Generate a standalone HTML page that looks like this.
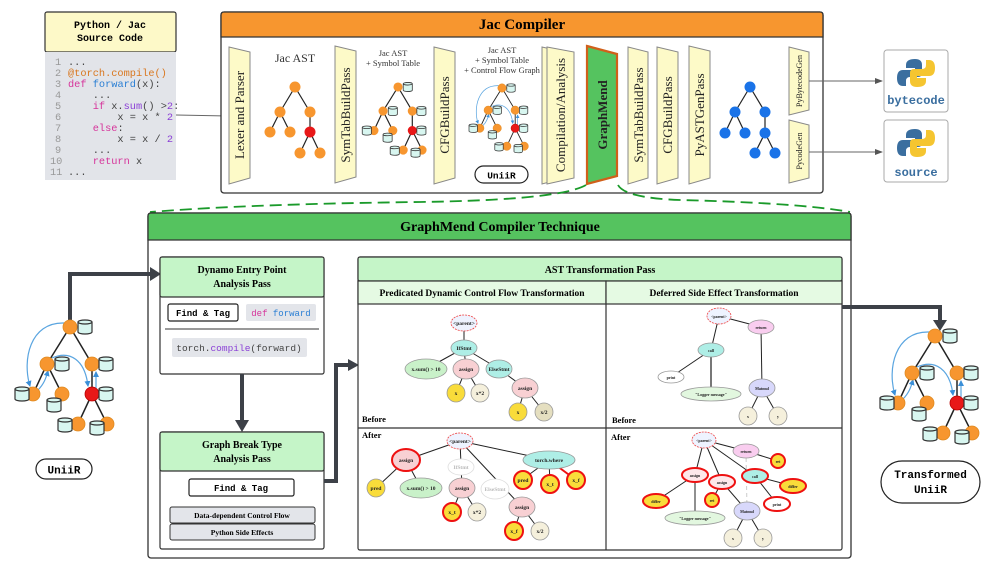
<!DOCTYPE html>
<html><head><meta charset="utf-8"><style>
html,body{margin:0;padding:0;background:#fff}
svg{display:block}
.s{font-family:"Liberation Serif",serif}
.m{font-family:"Liberation Mono",monospace}
.b{font-weight:bold}
</style></head><body>
<svg width="996" height="565" viewBox="0 0 996 565" xmlns="http://www.w3.org/2000/svg">
<defs>
<marker id="ah" markerWidth="8" markerHeight="8" refX="7" refY="4" orient="auto" markerUnits="userSpaceOnUse"><path d="M0,1 L8,4 L0,7 Z" fill="#555"/></marker>
<marker id="bh" markerWidth="6" markerHeight="6" refX="5" refY="3" orient="auto" markerUnits="userSpaceOnUse"><path d="M0,0 L6,3 L0,6 Z" fill="#3a8fd8"/></marker>
<g id="cyl"><path d="M-7,-5 L-7,5 A7,2 0 0 0 7,5 L7,-5" fill="#d8f6f0" stroke="#333" stroke-width="1.2"/><ellipse cx="0" cy="-5" rx="7" ry="2" fill="#d8f6f0" stroke="#333" stroke-width="1.2"/></g>
<g id="tree">
<g stroke="#222" stroke-width="1.5">
<line x1="70" y1="327" x2="47" y2="364"/><line x1="70" y1="327" x2="92" y2="364"/>
<line x1="47" y1="364" x2="33" y2="394"/><line x1="47" y1="364" x2="62" y2="394"/>
<line x1="92" y1="364" x2="92" y2="394"/><line x1="92" y1="394" x2="78" y2="424"/><line x1="92" y1="394" x2="107" y2="424"/>
</g>
<g fill="none" stroke="#5aa5e0" stroke-width="1.2">
<path d="M64,323 C30,322 22,360 30,386" marker-end="url(#bh)"/>
<path d="M38,390 C44,384 46,378 48,371" marker-end="url(#bh)"/>
<path d="M52,358 C70,350 85,360 88,386" marker-end="url(#bh)"/>
<path d="M96,388 L96,372" marker-end="url(#bh)"/>
</g>
<g stroke="#e08a20" stroke-width="0.8">
<circle cx="70" cy="327" r="7" fill="#f7962f"/><circle cx="47" cy="364" r="7" fill="#f7962f"/><circle cx="92" cy="364" r="7" fill="#f7962f"/>
<circle cx="33" cy="394" r="7" fill="#f7962f"/><circle cx="62" cy="394" r="7" fill="#f7962f"/><circle cx="92" cy="394" r="7" fill="#e81818" stroke="#b00"/>
<circle cx="78" cy="424" r="7" fill="#f7962f"/><circle cx="107" cy="424" r="7" fill="#f7962f"/>
</g>
<use href="#cyl" x="85" y="327"/><use href="#cyl" x="62" y="364"/><use href="#cyl" x="106" y="364"/>
<use href="#cyl" x="22" y="394"/><use href="#cyl" x="54" y="405"/><use href="#cyl" x="106" y="394"/>
<use href="#cyl" x="65" y="425"/><use href="#cyl" x="97" y="428"/>
</g>
</defs>

<!-- Source code -->
<rect x="45" y="12" width="131" height="40" fill="#fdf9c8" stroke="#333" stroke-width="1.2" rx="2"/>
<text x="110" y="28" text-anchor="middle" class="m b" font-size="10">Python / Jac</text>
<text x="110" y="41" text-anchor="middle" class="m b" font-size="10">Source Code</text>
<rect x="45" y="52" width="131" height="128" fill="#e2e4e9"/>
<g class="m" font-size="10.3">
<text x="55" y="65" fill="#999">1</text><text x="68" y="65" fill="#444">...</text>
<text x="55" y="76" fill="#999">2</text><text x="68" y="76" fill="#d9771f">@torch.compile()</text>
<text x="55" y="87" fill="#999">3</text><text x="68" y="87"><tspan fill="#d6339a">def</tspan> <tspan fill="#2b7fd4">forward</tspan><tspan fill="#444">(x):</tspan></text>
<text x="55" y="98" fill="#999">4</text><text x="68" y="98" fill="#444" xml:space="preserve">    ...</text>
<text x="55" y="109" fill="#999">5</text><text x="68" y="109" fill="#444" xml:space="preserve">    <tspan fill="#d6339a">if</tspan> x.<tspan fill="#8a3fd6">sum</tspan>() &gt;<tspan fill="#8a3fd6">2</tspan>:</text>
<text x="55" y="120" fill="#999">6</text><text x="68" y="120" fill="#444" xml:space="preserve">        x = x * <tspan fill="#8a3fd6">2</tspan></text>
<text x="55" y="131" fill="#999">7</text><text x="68" y="131" fill="#444" xml:space="preserve">    <tspan fill="#d6339a">else</tspan>:</text>
<text x="55" y="142" fill="#999">8</text><text x="68" y="142" fill="#444" xml:space="preserve">        x = x / <tspan fill="#8a3fd6">2</tspan></text>
<text x="55" y="153" fill="#999">9</text><text x="68" y="153" fill="#444" xml:space="preserve">    ...</text>
<text x="50" y="164" fill="#999">10</text><text x="68" y="164" fill="#444" xml:space="preserve">    <tspan fill="#d6339a">return</tspan> x</text>
<text x="50" y="175" fill="#999">11</text><text x="68" y="175" fill="#444">...</text>
</g>
<line x1="176" y1="115" x2="228" y2="116" stroke="#666" stroke-width="1" marker-end="url(#ah)"/>

<!-- Jac Compiler -->
<rect x="221" y="12" width="602" height="181" fill="#fff" stroke="#333" stroke-width="1.3" rx="3"/>
<path d="M221,37 L221,15 Q221,12 224,12 L820,12 Q823,12 823,15 L823,37 Z" fill="#f7962f" stroke="#333" stroke-width="1.3"/>
<text x="522" y="29" text-anchor="middle" class="s b" font-size="15">Jac Compiler</text>

<g stroke="#888" stroke-width="1" fill="#fdfac8">
<path d="M229,47 L250,52 L250,178 L229,184 Z"/>
<path d="M335,46 L356,51 L356,177 L335,183 Z"/>
<path d="M434,47 L455,52 L455,178 L434,184 Z"/>
<path d="M542,47 L564,52 L564,178 L542,184 Z"/>
<path d="M547,47 L574,52 L574,178 L547,184 Z"/>
<path d="M628,47 L648,52 L648,178 L628,184 Z"/>
<path d="M657,47 L678,52 L678,178 L657,184 Z"/>
<path d="M689,46 L710,51 L710,178 L689,184 Z"/>
<path d="M789,47 L809,52 L809,110 L789,115 Z"/>
<path d="M789,120 L809,125 L809,178 L789,183 Z"/>
</g>
<path d="M587,46 L617,54 L617,176 L587,184 Z" fill="#55c35f" stroke="#d0601a" stroke-width="2.2"/>
<g class="s" font-size="13" fill="#222">
<text transform="translate(244,115) rotate(-90)" text-anchor="middle">Lexer and Parser</text>
<text transform="translate(350,115) rotate(-90)" text-anchor="middle">SymTabBuildPass</text>
<text transform="translate(449,115) rotate(-90)" text-anchor="middle">CFGBuildPass</text>
<text transform="translate(565,115) rotate(-90)" text-anchor="middle">Compilation/Analysis</text>
<text transform="translate(607,115) rotate(-90)" text-anchor="middle" class="b">GraphMend</text>
<text transform="translate(643,115) rotate(-90)" text-anchor="middle">SymTabBuildPass</text>
<text transform="translate(672,115) rotate(-90)" text-anchor="middle">CFGBuildPass</text>
<text transform="translate(704,115) rotate(-90)" text-anchor="middle">PyASTGenPass</text>
<text transform="translate(802,81) rotate(-90)" text-anchor="middle" font-size="8">PyBytecodeGen</text>
<text transform="translate(802,151) rotate(-90)" text-anchor="middle" font-size="8">PycodeGen</text>
</g>
<g class="s" fill="#333" text-anchor="middle">
<text x="295" y="62" font-size="12">Jac AST</text>
<text x="393" y="56" font-size="8.5">Jac AST</text><text x="393" y="66" font-size="8.5">+ Symbol Table</text>
<text x="502" y="53" font-size="8.5">Jac AST</text><text x="502" y="63" font-size="8.5">+ Symbol Table</text><text x="502" y="73" font-size="8.5">+ Control Flow Graph</text>
</g>
<g stroke="#222" stroke-width="1.2">
<line x1="295" y1="87" x2="280" y2="112"/><line x1="295" y1="87" x2="310" y2="112"/>
<line x1="280" y1="112" x2="270" y2="132"/><line x1="280" y1="112" x2="290" y2="132"/>
<line x1="310" y1="112" x2="310" y2="132"/><line x1="310" y1="132" x2="300" y2="153"/><line x1="310" y1="132" x2="320" y2="153"/>
</g>
<g fill="#f7962f"><circle cx="295" cy="87" r="5.5"/><circle cx="280" cy="112" r="5.5"/><circle cx="310" cy="112" r="5.5"/><circle cx="270" cy="132" r="5.5"/><circle cx="290" cy="132" r="5.5"/><circle cx="310" cy="132" r="5.5" fill="#e81818"/><circle cx="300" cy="153" r="5.5"/><circle cx="320" cy="153" r="5.5"/></g>
<g transform="translate(398,87) scale(0.65) translate(-70,-327)">
<g stroke="#222" stroke-width="1.8">
<line x1="70" y1="327" x2="47" y2="364"/><line x1="70" y1="327" x2="92" y2="364"/>
<line x1="47" y1="364" x2="33" y2="394"/><line x1="47" y1="364" x2="62" y2="394"/>
<line x1="92" y1="364" x2="92" y2="394"/><line x1="92" y1="394" x2="78" y2="424"/><line x1="92" y1="394" x2="107" y2="424"/>
</g>
<g fill="#f7962f"><circle cx="70" cy="327" r="7"/><circle cx="47" cy="364" r="7"/><circle cx="92" cy="364" r="7"/><circle cx="33" cy="394" r="7"/><circle cx="62" cy="394" r="7"/><circle cx="92" cy="394" r="7" fill="#e81818"/><circle cx="78" cy="424" r="7"/><circle cx="107" cy="424" r="7"/></g>
<use href="#cyl" x="85" y="327"/><use href="#cyl" x="62" y="364"/><use href="#cyl" x="106" y="364"/><use href="#cyl" x="22" y="394"/><use href="#cyl" x="54" y="405"/><use href="#cyl" x="106" y="394"/><use href="#cyl" x="65" y="425"/><use href="#cyl" x="97" y="428"/>
</g>
<use href="#tree" transform="translate(502,88) scale(0.6) translate(-70,-327)"/>
<rect x="475" y="166" width="53" height="17" rx="8.5" fill="#fff" stroke="#222" stroke-width="1.2"/>
<text x="501.5" y="178.5" text-anchor="middle" class="m b" font-size="9.5">UniiR</text>
<g stroke="#222" stroke-width="1.2">
<line x1="750" y1="87" x2="735" y2="112"/><line x1="750" y1="87" x2="765" y2="112"/>
<line x1="735" y1="112" x2="725" y2="133"/><line x1="735" y1="112" x2="745" y2="133"/>
<line x1="765" y1="112" x2="765" y2="133"/><line x1="765" y1="133" x2="755" y2="153"/><line x1="765" y1="133" x2="775" y2="153"/>
</g>
<g fill="#1a73e8"><circle cx="750" cy="87" r="5.5"/><circle cx="735" cy="112" r="5.5"/><circle cx="765" cy="112" r="5.5"/><circle cx="725" cy="133" r="5.5"/><circle cx="745" cy="133" r="5.5"/><circle cx="765" cy="133" r="5.5"/><circle cx="755" cy="153" r="5.5"/><circle cx="775" cy="153" r="5.5"/></g>

<line x1="809" y1="81" x2="882" y2="81" stroke="#666" marker-end="url(#ah)"/>
<line x1="809" y1="152" x2="882" y2="152" stroke="#666" marker-end="url(#ah)"/>
<rect x="884" y="50" width="64" height="62" rx="3" fill="#fff" stroke="#aaa"/>
<rect x="884" y="120" width="64" height="62" rx="3" fill="#fff" stroke="#aaa"/>
<g>
<path d="M915,59 q-9,0 -9,6 v3 h9 v2 h-12 q-6,0 -6,8 q0,8 6,8 h3 v-5 q0,-4 4,-4 h8 q4,0 4,-4 v-8 q0,-6 -7,-6z" fill="#3a6e9f"/>
<path d="M917,87 q9,0 9,-6 v-3 h-9 v-2 h12 q6,0 6,-8 q0,-8 -6,-8 h-3 v5 q0,4 -4,4 h-8 q-4,0 -4,4 v8 q0,6 7,6z" fill="#f5c530"/>
<text x="916" y="104" text-anchor="middle" class="m b" font-size="12" fill="#3a6e9f">bytecode</text>
<path d="M915,129 q-9,0 -9,6 v3 h9 v2 h-12 q-6,0 -6,8 q0,8 6,8 h3 v-5 q0,-4 4,-4 h8 q4,0 4,-4 v-8 q0,-6 -7,-6z" fill="#3a6e9f"/>
<path d="M917,157 q9,0 9,-6 v-3 h-9 v-2 h12 q6,0 6,-8 q0,-8 -6,-8 h-3 v5 q0,4 -4,4 h-8 q-4,0 -4,4 v8 q0,6 7,6z" fill="#f5c530"/>
<text x="916" y="176" text-anchor="middle" class="m b" font-size="12" fill="#3a6e9f">source</text>
</g>

<path d="M586,185 Q560,200 420,202 Q250,204 150,212" fill="none" stroke="#1a9a2a" stroke-width="1.8" stroke-dasharray="12,6"/>
<path d="M618,185 Q625,198 680,200 Q800,203 850,212" fill="none" stroke="#1a9a2a" stroke-width="1.8" stroke-dasharray="12,6"/>

<rect x="148" y="213" width="703" height="345" fill="#fff" stroke="#333" stroke-width="1.3" rx="3"/>
<path d="M148,240 L148,216 Q148,213 151,213 L848,213 Q851,213 851,216 L851,240 Z" fill="#55c35f" stroke="#333" stroke-width="1.3"/>
<text x="500" y="231" text-anchor="middle" class="s b" font-size="14">GraphMend Compiler Technique</text>

<path d="M70,320 L70,274 L152,274" fill="none" stroke="#3d4148" stroke-width="4"/>
<path d="M150,267 L161,274 L150,281 Z" fill="#3d4148"/>
<use href="#tree"/>
<rect x="36" y="459" width="56" height="20" rx="10" fill="#fff" stroke="#222" stroke-width="1.2"/>
<text x="64" y="473.5" text-anchor="middle" class="m b" font-size="11">UniiR</text>

<rect x="160" y="257" width="164" height="117" fill="#fff" stroke="#333" stroke-width="1.2" rx="2"/>
<rect x="160" y="257" width="164" height="40" fill="#c5f5c8" stroke="#333" stroke-width="1.2" rx="2"/>
<text x="242" y="273" text-anchor="middle" class="s b" font-size="10">Dynamo Entry Point</text>
<text x="242" y="287" text-anchor="middle" class="s b" font-size="10">Analysis Pass</text>
<rect x="168" y="304" width="70" height="17" rx="2" fill="#fff" stroke="#222" stroke-width="1.2"/>
<text x="203" y="316" text-anchor="middle" class="m b" font-size="9">Find &amp; Tag</text>
<rect x="246" y="304" width="70" height="17" rx="2" fill="#e3e5ea"/>
<text x="281" y="316" text-anchor="middle" class="m" font-size="9"><tspan fill="#d6339a">def</tspan> <tspan fill="#2b7fd4">forward</tspan></text>
<line x1="165" y1="329" x2="319" y2="329" stroke="#333" stroke-width="1"/>
<rect x="172" y="338" width="135" height="19" rx="2" fill="#e3e5ea"/>
<text x="239" y="351" text-anchor="middle" class="m" font-size="9.5" fill="#444">torch.<tspan fill="#8a3fd6">compile</tspan>(forward)</text>
<path d="M242,374 L242,422" stroke="#3d4148" stroke-width="4"/>
<path d="M235,420 L242,432 L249,420 Z" fill="#3d4148"/>
<rect x="160" y="432" width="164" height="117" fill="#fff" stroke="#333" stroke-width="1.2" rx="2"/>
<rect x="160" y="432" width="164" height="39" fill="#c5f5c8" stroke="#333" stroke-width="1.2" rx="2"/>
<text x="242" y="448" text-anchor="middle" class="s b" font-size="10">Graph Break Type</text>
<text x="242" y="462" text-anchor="middle" class="s b" font-size="10">Analysis Pass</text>
<rect x="189" y="479" width="105" height="17" rx="2" fill="#fff" stroke="#222" stroke-width="1.2"/>
<text x="241" y="491" text-anchor="middle" class="m b" font-size="9">Find &amp; Tag</text>
<rect x="170" y="507" width="145" height="16" rx="2" fill="#e3e5ea" stroke="#333"/>
<text x="242" y="518" text-anchor="middle" class="s b" font-size="7.5">Data-dependent Control Flow</text>
<rect x="170" y="524" width="145" height="16" rx="2" fill="#e3e5ea" stroke="#333"/>
<text x="242" y="535" text-anchor="middle" class="s b" font-size="7.5">Python Side Effects</text>
<path d="M324,481 L336,481 L336,365 L350,365" fill="none" stroke="#3d4148" stroke-width="4"/>
<path d="M348,359 L359,365 L348,371 Z" fill="#3d4148"/>

<rect x="358" y="257" width="484" height="293" fill="#fff" stroke="#333" stroke-width="1.2" rx="2"/>
<rect x="358" y="257" width="484" height="24" fill="#c5f5c8" stroke="#333" stroke-width="1.2" rx="2"/>
<text x="600" y="273" text-anchor="middle" class="s b" font-size="10">AST Transformation Pass</text>
<rect x="358" y="281" width="248" height="23" fill="#e5fae3" stroke="#333" stroke-width="1.2"/>
<rect x="606" y="281" width="236" height="23" fill="#e5fae3" stroke="#333" stroke-width="1.2"/>
<text x="482" y="296" text-anchor="middle" class="s b" font-size="9.5">Predicated Dynamic Control Flow Transformation</text>
<text x="724" y="296" text-anchor="middle" class="s b" font-size="9.5">Deferred Side Effect Transformation</text>
<line x1="606" y1="304" x2="606" y2="550" stroke="#333" stroke-width="1.2"/>
<line x1="358" y1="428" x2="842" y2="428" stroke="#333" stroke-width="1.2"/>
<g class="s b" font-size="8.5"><text x="362" y="422">Before</text><text x="362" y="438">After</text><text x="612" y="423">Before</text><text x="611" y="440">After</text></g>

<path d="M842,307 L940,307 L940,322" fill="none" stroke="#3d4148" stroke-width="4"/>
<path d="M933,320 L940,331 L947,320 Z" fill="#3d4148"/>
<use href="#tree" transform="translate(865,9)"/>
<rect x="881" y="461" width="99" height="42" rx="21" fill="#fff" stroke="#222" stroke-width="1.2"/>
<text x="930.5" y="478" text-anchor="middle" class="m b" font-size="11">Transformed</text>
<text x="930.5" y="493" text-anchor="middle" class="m b" font-size="11">UniiR</text>

<g stroke="#222" stroke-width="1">
<line x1="464" y1="323" x2="464" y2="348"/><line x1="464" y1="348" x2="426" y2="369"/><line x1="464" y1="348" x2="466" y2="369"/><line x1="464" y1="348" x2="499" y2="369"/>
<line x1="466" y1="369" x2="456" y2="393"/><line x1="466" y1="369" x2="480" y2="393"/><line x1="499" y1="369" x2="525" y2="388"/>
<line x1="525" y1="388" x2="518" y2="412"/><line x1="525" y1="388" x2="544" y2="412"/>
</g>
<g stroke="#999" stroke-width="0.8" class="s b" font-size="5.5" text-anchor="middle">
<ellipse cx="464" cy="323" rx="13" ry="8" fill="#eef3ff" stroke="#e44" stroke-dasharray="2,1"/>
<ellipse cx="464" cy="348" rx="13" ry="8" fill="#aeeee6"/>
<ellipse cx="426" cy="369" rx="21" ry="10" fill="#c9f1c9"/>
<ellipse cx="466" cy="369" rx="13" ry="10" fill="#f8d0d3"/>
<ellipse cx="499" cy="369" rx="13" ry="9" fill="#aeeee6"/>
<ellipse cx="525" cy="388" rx="13" ry="10" fill="#f8d0d3"/>
<circle cx="456" cy="393" r="9" fill="#f9dc3a"/><circle cx="480" cy="393" r="9" fill="#f5f0dc"/>
<circle cx="518" cy="412" r="9" fill="#f9dc3a"/><circle cx="544" cy="412" r="9" fill="#e5dfc0"/>
<g stroke="none" fill="#222"><text x="464" y="325">&lt;parent&gt;</text><text x="464" y="350">IfStmt</text><text x="426" y="371">x.sum() &gt; 10</text><text x="466" y="371">assign</text><text x="499" y="371">ElseStmt</text><text x="525" y="390">assign</text><text x="456" y="395">x</text><text x="480" y="395">x*2</text><text x="518" y="414">x</text><text x="544" y="414">x/2</text></g>
</g>

<g stroke="#222" stroke-width="1">
<line x1="460" y1="441" x2="406" y2="460"/><line x1="460" y1="441" x2="549" y2="460"/><line x1="460" y1="441" x2="462" y2="488"/><line x1="460" y1="441" x2="522" y2="507"/>
<line x1="406" y1="460" x2="376" y2="488"/><line x1="406" y1="460" x2="421" y2="488"/>
<line x1="462" y1="488" x2="452" y2="512"/><line x1="462" y1="488" x2="477" y2="512"/>
<line x1="522" y1="507" x2="514" y2="531"/><line x1="522" y1="507" x2="540" y2="531"/>
<line x1="549" y1="460" x2="523" y2="479"/><line x1="549" y1="460" x2="550" y2="484"/><line x1="549" y1="460" x2="576" y2="480" stroke="#e11" stroke-width="2"/>
</g>
<g stroke-width="0.8" class="s b" font-size="5.5" text-anchor="middle">
<ellipse cx="461" cy="467" rx="13" ry="8" fill="#fff" stroke="#ddd"/>
<ellipse cx="495" cy="489" rx="14" ry="10" fill="#fff" stroke="#ddd"/>
<ellipse cx="460" cy="441" rx="13" ry="8" fill="#eef3ff" stroke="#e44" stroke-dasharray="2,1"/>
<ellipse cx="406" cy="460" rx="14" ry="11" fill="#f8d0d3" stroke="#e11" stroke-width="2"/>
<circle cx="376" cy="488" r="9" fill="#f9dc3a" stroke="#999"/>
<ellipse cx="421" cy="488" rx="21" ry="10" fill="#c9f1c9" stroke="#999"/>
<ellipse cx="462" cy="488" rx="13" ry="10" fill="#f8d0d3" stroke="#999"/>
<ellipse cx="522" cy="507" rx="13" ry="10" fill="#f8d0d3" stroke="#999"/>
<circle cx="452" cy="512" r="9" fill="#f9dc3a" stroke="#e11" stroke-width="2"/><circle cx="477" cy="512" r="9" fill="#f5f0dc" stroke="#999"/>
<circle cx="514" cy="531" r="9" fill="#f9dc3a" stroke="#e11" stroke-width="2"/><circle cx="540" cy="531" r="9" fill="#f5f0dc" stroke="#999"/>
<ellipse cx="549" cy="460" rx="26" ry="9" fill="#aeeee6" stroke="#999"/>
<circle cx="523" cy="480" r="9" fill="#f9dc3a" stroke="#e11" stroke-width="2"/><circle cx="550" cy="484" r="9" fill="#f9dc3a" stroke="#e11" stroke-width="2"/><circle cx="576" cy="480" r="9" fill="#f9dc3a" stroke="#e11" stroke-width="2"/>
<g stroke="none" fill="#222"><text x="461" y="469" fill="#bbb">IfStmt</text><text x="495" y="491" fill="#bbb">ElseStmt</text><text x="460" y="443">&lt;parent&gt;</text><text x="406" y="462">assign</text><text x="376" y="490">pred</text><text x="421" y="490">x.sum() &gt; 10</text><text x="462" y="490">assign</text><text x="522" y="509">assign</text><text x="452" y="514">x_t</text><text x="477" y="514">x*2</text><text x="514" y="533">x_f</text><text x="540" y="533">x/2</text><text x="549" y="462">torch.where</text><text x="523" y="482">pred</text><text x="550" y="486">x_t</text><text x="576" y="482">x_f</text></g>
</g>

<g stroke="#222" stroke-width="1">
<line x1="719" y1="316" x2="761" y2="327"/><line x1="719" y1="316" x2="711" y2="350"/>
<line x1="711" y1="350" x2="671" y2="377"/><line x1="711" y1="350" x2="711" y2="394" stroke="#777" stroke-width="2"/>
<line x1="761" y1="327" x2="762" y2="388"/><line x1="762" y1="388" x2="748" y2="416"/><line x1="762" y1="388" x2="778" y2="416"/>
</g>
<g stroke="#999" stroke-width="0.8" class="s b" font-size="4" text-anchor="middle">
<ellipse cx="719" cy="316" rx="12" ry="8" fill="#eef3ff" stroke="#e44" stroke-dasharray="2,1"/>
<ellipse cx="761" cy="327" rx="13" ry="7" fill="#f9cdef"/>
<ellipse cx="711" cy="350" rx="13" ry="7" fill="#aeeee6"/>
<ellipse cx="671" cy="377" rx="13" ry="6" fill="#fff"/>
<ellipse cx="711" cy="394" rx="30" ry="7" fill="#e2f7df"/>
<ellipse cx="762" cy="388" rx="13" ry="9" fill="#d8d8fb"/>
<circle cx="748" cy="416" r="9" fill="#f5f0dc"/><circle cx="778" cy="416" r="9" fill="#f5f0dc"/>
<g stroke="none" fill="#222"><text x="719" y="318">&lt;parent&gt;</text><text x="761" y="329">return</text><text x="711" y="352">call</text><text x="671" y="379">print</text><text x="711" y="396">"Logger message"</text><text x="762" y="390">Matmul</text><text x="748" y="418">x</text><text x="778" y="418">y</text></g>
</g>

<g stroke="#222" stroke-width="1">
<line x1="704" y1="440" x2="746" y2="451"/><line x1="704" y1="440" x2="695" y2="475"/><line x1="704" y1="440" x2="722" y2="482"/><line x1="704" y1="440" x2="755" y2="476"/>
<line x1="746" y1="451" x2="778" y2="461"/><line x1="746" y1="451" x2="747" y2="511" stroke="#ccc" stroke-dasharray="4,3"/>
<line x1="695" y1="475" x2="656" y2="501"/><line x1="695" y1="475" x2="695" y2="518"/>
<line x1="722" y1="482" x2="712" y2="500"/><line x1="722" y1="482" x2="747" y2="511"/>
<line x1="755" y1="476" x2="793" y2="486"/><line x1="755" y1="476" x2="777" y2="504"/>
<line x1="747" y1="511" x2="733" y2="538"/><line x1="747" y1="511" x2="763" y2="538"/>
</g>
<g stroke="#999" stroke-width="0.8" class="s b" font-size="4" text-anchor="middle">
<ellipse cx="704" cy="440" rx="12" ry="8" fill="#eef3ff" stroke="#e44" stroke-dasharray="2,1"/>
<ellipse cx="746" cy="451" rx="13" ry="7" fill="#f9cdef"/>
<circle cx="778" cy="461" r="7" fill="#f9dc3a" stroke="#e11" stroke-width="2"/>
<ellipse cx="695" cy="475" rx="13" ry="7" fill="#fde8ea" stroke="#e11" stroke-width="2"/>
<ellipse cx="722" cy="482" rx="13" ry="7" fill="#fde8ea" stroke="#e11" stroke-width="2"/>
<ellipse cx="755" cy="476" rx="13" ry="7" fill="#aeeee6" stroke="#e11" stroke-width="2"/>
<ellipse cx="793" cy="486" rx="13" ry="7" fill="#f9dc3a" stroke="#e11" stroke-width="2"/>
<ellipse cx="777" cy="504" rx="13" ry="7" fill="#fff" stroke="#e11" stroke-width="2"/>
<ellipse cx="656" cy="501" rx="13" ry="7" fill="#f9dc3a" stroke="#e11" stroke-width="2"/>
<circle cx="712" cy="500" r="7" fill="#f9dc3a" stroke="#e11" stroke-width="2"/>
<ellipse cx="747" cy="511" rx="13" ry="9" fill="#d8d8fb"/>
<ellipse cx="695" cy="518" rx="30" ry="7" fill="#e2f7df"/>
<circle cx="733" cy="538" r="9" fill="#f5f0dc"/><circle cx="763" cy="538" r="9" fill="#f5f0dc"/>
<g stroke="none" fill="#222"><text x="704" y="442">&lt;parent&gt;</text><text x="746" y="453">return</text><text x="778" y="463">ret</text><text x="695" y="477">assign</text><text x="722" y="484">assign</text><text x="755" y="478">call</text><text x="793" y="488">differ</text><text x="777" y="506">print</text><text x="656" y="503">differ</text><text x="712" y="502">ret</text><text x="747" y="513">Matmul</text><text x="695" y="520">"Logger message"</text><text x="733" y="540">x</text><text x="763" y="540">y</text></g>
</g>
</svg>
</body></html>
